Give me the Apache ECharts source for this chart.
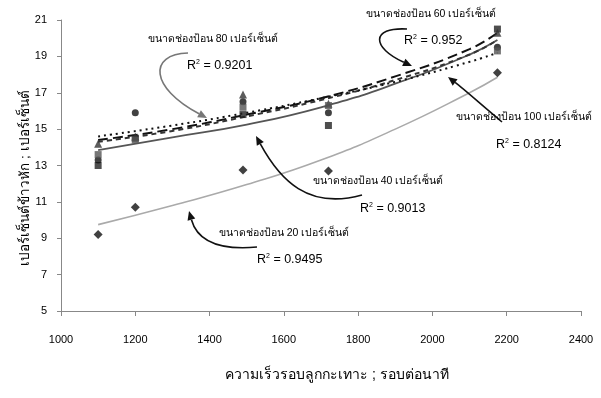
<!DOCTYPE html>
<html>
<head>
<meta charset="utf-8">
<script src="https://cdn.jsdelivr.net/npm/echarts@6/dist/echarts.min.js"></script>
<style>html,body{margin:0;padding:0;background:#fff}#c{width:601px;height:398px}</style>
</head>
<body>
<div id="c"></div>
<script>
// Measured x positions (rpm)
const xValues = [1100, 1200, 1490, 1720, 2175];
// Observed points per feed opening size
const obs20 = [9.2, 10.7, 12.75, 12.7, 18.1];
const obs40 = [13.0, 14.5, 15.8, 15.2, 20.5];
const obs60 = [14.2, 14.6, 16.9, 16.4, 20.3];
const obs80 = [13.3, 15.9, 16.5, 15.9, 19.5];
const obs100 = [13.6, 14.4, 16.2, 16.3, 19.3];
// Trend lines
const trendX = [1100, 1300, 1500, 1700, 1900, 2100, 2175];
const trend20 = [9.75, 10.8, 11.95, 13.3, 15.0, 17.0, 17.85];
const trend40 = [13.85, 14.55, 15.25, 16.2, 17.5, 19.1, 19.9];
const trend60 = [14.4, 15.0, 15.8, 16.7, 17.9, 19.4, 20.3];
const trend80 = [14.3, 14.9, 15.7, 16.6, 17.7, 19.1, 19.9];
const trend100 = [14.6, 15.2, 15.9, 16.7, 17.6, 18.7, 19.2];
const xTicks = [1000, 1200, 1400, 1600, 1800, 2000, 2200, 2400];
const yTicks = [5, 7, 9, 11, 13, 15, 17, 19, 21];

const FONT = '"Liberation Sans", Arial, sans-serif';
const pair = (xs, ys) => xs.map((x, i) => [x, ys[i]]);

function scatter(name, data, symbol, size, color) {
  return { name, type: 'scatter', data: pair(xValues, data), symbol, symbolSize: size,
    itemStyle: { color }, z: 5 };
}
function trend(name, data, color, type, width) {
  return { name: name + ' trend', type: 'line', data: pair(trendX, data), smooth: true,
    symbol: 'none', lineStyle: { color, type, width }, z: 3 };
}

function arrow(pts, color) {
  const [x1, y1, c1x, c1y, c2x, c2y, x2, y2] = pts;
  const ang = Math.atan2(y2 - c2y, x2 - c2x);
  const L = 9, W = 4;
  const bx = x2 - L * Math.cos(ang), by = y2 - L * Math.sin(ang);
  const px = -Math.sin(ang) * W, py = Math.cos(ang) * W;
  return [
    { type: 'bezierCurve', shape: { x1, y1, cpx1: c1x, cpy1: c1y, cpx2: c2x, cpy2: c2y, x2: bx, y2: by },
      style: { stroke: color, lineWidth: 1.6, fill: null }, z: 10 },
    { type: 'polygon', shape: { points: [[x2, y2], [bx + px, by + py], [bx - px, by - py]] },
      style: { fill: color }, z: 10 }
  ];
}
function label(text, x, y) {
  return { type: 'text', x, y, style: { text, font: '10.5px ' + FONT, fill: '#000', align: 'center', verticalAlign: 'middle' }, z: 11 };
}
function r2(val, x, y) {
  return { type: 'text', x, y, style: { text: 'R{s|2} = ' + val, font: '12.5px ' + FONT, fill: '#000', verticalAlign: 'middle',
    rich: { s: { fontSize: 7, verticalAlign: 'top', padding: [0, 0, 7, 0] } } }, z: 11 };
}

const graphics = [].concat(
  label('ขนาดช่องป้อน 80 เปอร์เซ็นต์', 213, 39),
  r2('0.9201', 187, 66),
  arrow([188, 53, 148, 54, 150, 88, 207, 118], '#777'),
  label('ขนาดช่องป้อน 60 เปอร์เซ็นต์', 431, 14),
  r2('0.952', 404, 41),
  arrow([407, 29, 370, 27, 372, 48, 412, 66], '#111'),
  label('ขนาดช่องป้อน 100 เปอร์เซ็นต์', 524, 117),
  r2('0.8124', 496, 145),
  arrow([502, 122, 485, 108, 465, 90, 448, 77], '#111'),
  label('ขนาดช่องป้อน 40 เปอร์เซ็นต์', 378, 181),
  r2('0.9013', 360, 209),
  arrow([362, 195, 308, 210, 280, 180, 256, 136], '#111'),
  label('ขนาดช่องป้อน 20 เปอร์เซ็นต์', 284, 233),
  r2('0.9495', 257, 260),
  arrow([257, 247, 212, 251, 196, 236, 189, 211], '#111'),
  [{ type: 'text', x: 337, y: 375, style: { text: 'ความเร็วรอบลูกกะเทาะ ; รอบต่อนาที', font: '14px ' + FONT, fill: '#000', align: 'center', verticalAlign: 'middle' } },
   { type: 'text', x: 25, y: 178, rotation: Math.PI / 2, style: { text: 'เปอร์เซ็นต์ข้าวหัก ; เปอร์เซ็นต์', font: '13.5px ' + FONT, fill: '#000', align: 'center', verticalAlign: 'middle' } }]
);

const chart = echarts.init(document.getElementById('c'), null, { renderer: 'canvas' });
chart.setOption({
  animation: false,
  backgroundColor: '#fff',
  textStyle: { fontFamily: FONT },
  grid: { left: 61, right: 20, top: 20, bottom: 87 },
  xAxis: {
    type: 'value', min: xTicks[0], max: xTicks[xTicks.length - 1], interval: 200,
    axisLine: { lineStyle: { color: '#888', width: 1 } },
    axisTick: { show: true, length: 5, lineStyle: { color: '#888' } },
    axisLabel: { fontSize: 11, color: '#000', margin: 23, formatter: v => String(v) },
    splitLine: { show: false }
  },
  yAxis: {
    type: 'value', min: yTicks[0], max: yTicks[yTicks.length - 1], interval: 2,
    axisLine: { show: true, lineStyle: { color: '#888', width: 1 } },
    axisTick: { show: true, length: 4, lineStyle: { color: '#888' } },
    axisLabel: { fontSize: 11, color: '#000', margin: 14 },
    splitLine: { show: false }
  },
  series: [
    trend('20', trend20, '#aaa', 'solid', 1.6),
    trend('40', trend40, '#555', 'solid', 1.8),
    trend('60', trend60, '#111', [10, 5], 2),
    trend('80', trend80, '#333', [5, 4], 2),
    trend('100', trend100, '#111', [2, 4], 2),
    scatter('20', obs20, 'diamond', 9, '#111'),
    scatter('40', obs40, 'rect', 7, '#222'),
    scatter('60', obs60, 'triangle', 8, '#333'),
    scatter('80', obs80, 'circle', 7, '#111'),
    scatter('100', obs100, 'rect', 7, '#555')
  ],
  graphic: graphics
});
</script>
</body>
</html>
